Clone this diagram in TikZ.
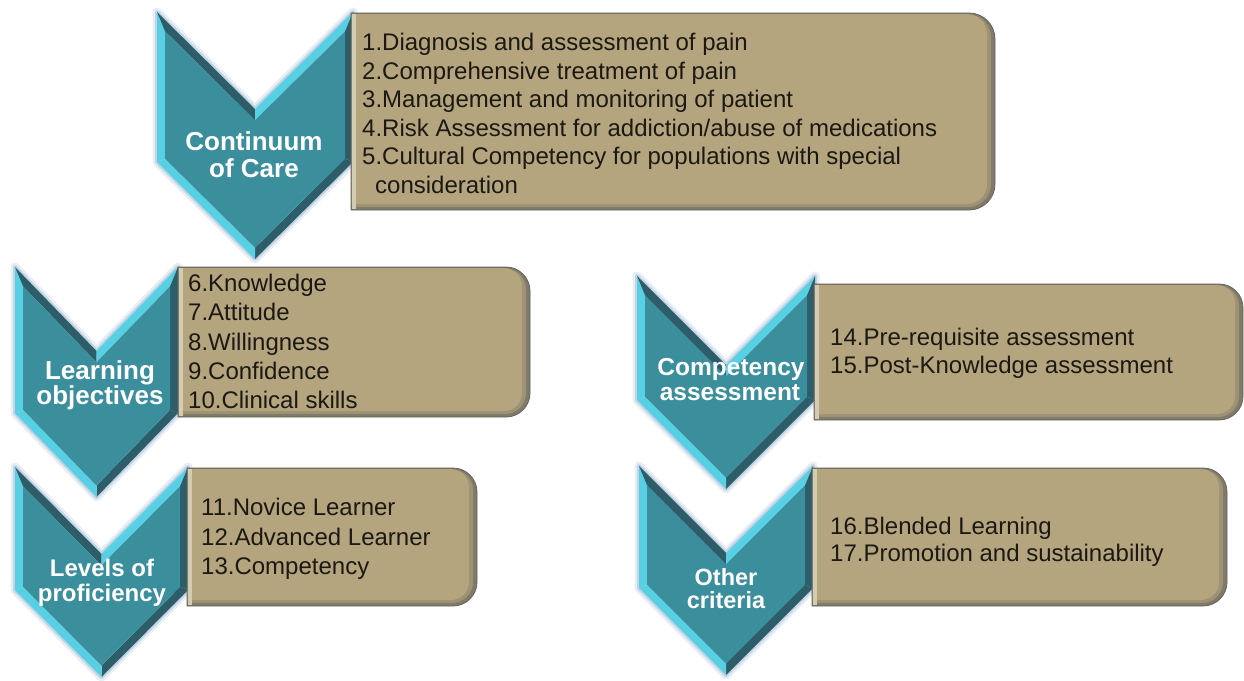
\documentclass[tikz,border=0pt]{standalone}
\usepackage{fontspec}
\setmainfont{Liberation Sans}
\usetikzlibrary{calc}

\definecolor{tealface}{HTML}{3B8E9C}
\definecolor{bevlight}{HTML}{58D0E4}
\definecolor{bevdark}{HTML}{2C5D68}
\definecolor{glowblue}{HTML}{B4C8DE}
\definecolor{tanface}{HTML}{B4A57F}
\definecolor{tanmid}{HTML}{9E9275}
\definecolor{tanedge}{HTML}{7F7A6A}
\definecolor{tanline}{HTML}{66625A}
\definecolor{tanlight}{HTML}{D2CDB2}
\definecolor{boxink}{HTML}{1C1914}

% chevron: #1 name, #2 left x, #3 right x, #4 top y, #5 side bottom y, #6 notch depth
\newcommand\chevronshape[6]{%
  \pgfmathsetmacro\chC{(#2+#3)/2}%
  \pgfmathsetmacro\chN{#4+#6}%
  \pgfmathsetmacro\chP{#5+#6}%
  \coordinate (#1A) at (#2,#4);
  \coordinate (#1N) at (\chC,\chN);
  \coordinate (#1B) at (#3,#4);
  \coordinate (#1Rb) at (#3,#5);
  \coordinate (#1P) at (\chC,\chP);
  \coordinate (#1Lb) at (#2,#5);
  \coordinate (#1a) at ($(#1A)+(8,19.3)$);
  \coordinate (#1n) at ($(#1N)+(0,11.3)$);
  \coordinate (#1b) at ($(#1B)+(-8,19.3)$);
  \coordinate (#1rb) at ($(#1Rb)+(-8,-3.3)$);
  \coordinate (#1p) at ($(#1P)+(0,-11.3)$);
  \coordinate (#1lb) at ($(#1Lb)+(8,-3.3)$);
  \draw[glowblue, line width=9pt, opacity=0.3, line join=round]
    (#1A)--(#1N)--(#1B)--(#1Rb)--(#1P)--(#1Lb)--cycle;
  \draw[glowblue, line width=4pt, opacity=0.7, line join=round]
    (#1A)--(#1N)--(#1B)--(#1Rb)--(#1P)--(#1Lb)--cycle;
  \fill[bevlight] (#1A)--(#1Lb)--(#1lb)--(#1a)--cycle;
  \fill[bevdark]  (#1A)--(#1N)--(#1n)--(#1a)--cycle;
  \fill[bevlight] (#1N)--(#1B)--(#1b)--(#1n)--cycle;
  \fill[bevdark]  (#1B)--(#1Rb)--(#1rb)--(#1b)--cycle;
  \fill[bevdark]  (#1Rb)--(#1P)--(#1p)--(#1rb)--cycle;
  \fill[bevlight] (#1P)--(#1Lb)--(#1lb)--(#1p)--cycle;
  \fill[tealface] (#1a)--(#1n)--(#1b)--(#1rb)--(#1p)--(#1lb)--cycle;
}

% tan panel with rounded right corners: #1 x1, #2 y1, #3 x2, #4 y2, #5 radius
\newcommand\tanbox[5]{%
  \filldraw[fill=tanedge, draw=tanline, line width=0.8pt]
    (#1,#2) -- ({#3-#5},#2) arc[start angle=-90,end angle=0,radius=#5]
    -- (#3,{#4-#5}) arc[start angle=0,end angle=90,radius=#5] -- (#1,#4) -- cycle;
  \fill[tanmid]
    ({#1+0.8},{#2+1.2}) -- ({#3-4-(#5-3)},{#2+1.2}) arc[start angle=-90,end angle=0,radius={#5-3}]
    -- ({#3-4},{#4-3-(#5-3)}) arc[start angle=0,end angle=90,radius={#5-3}] -- ({#1+0.8},{#4-3}) -- cycle;
  \fill[tanface]
    ({#1+0.8},{#2+1.2}) -- ({#3-8-(#5-6)},{#2+1.2}) arc[start angle=-90,end angle=0,radius={#5-6}]
    -- ({#3-8},{#4-6-(#5-6)}) arc[start angle=0,end angle=90,radius={#5-6}] -- ({#1+0.8},{#4-6}) -- cycle;
  \fill[tanlight] ({#1+0.8},{#2+1.2}) rectangle ({#1+5},{#4-1});
}

\begin{document}
\begin{tikzpicture}[x=1pt,y=-1pt,
  boxtext/.style={anchor=north west, inner sep=0pt, align=left, text=boxink},
  chevlabel/.style={anchor=base, inner sep=0pt, text=white,
    font=\bfseries\fontsize{#1}{#1}\selectfont},
]
\useasboundingbox[fill=white] (0,0) rectangle (1244,680);

% chevrons
\chevronshape{c1}{157}{353}{12}{162}{97}
\chevronshape{c2}{15}{178}{267}{413}{84}
\chevronshape{c3}{15}{188}{467}{590}{87}
\chevronshape{c4}{637}{815}{276}{400}{89}
\chevronshape{c5}{639}{813}{466}{588}{87}

% panels
\tanbox{351}{13}{995}{210}{26}
\tanbox{178}{267}{530}{417}{24}
\tanbox{187}{468}{477}{606}{24}
\tanbox{814}{284}{1243}{420}{24}
\tanbox{812}{468}{1227}{606}{24}

% chevron labels
\node[chevlabel=26] (c1l1) at (254,150.3) {Continuum};
\node[chevlabel=26] (c1l2) at (254,177.3) {of Care};
\node[chevlabel=26] (c2l1) at (100,379.3) {Learning};
\node[chevlabel=26] (c2l2) at (100,404.3) {objectives};
\node[chevlabel=24] (c3l1) at (102,576.6) {Levels of};
\node[chevlabel=24] (c3l2) at (102,601.6) {proficiency};
\node[chevlabel=24.5] (c4l1) at (731,375.8) {Competency};
\node[chevlabel=24.5] (c4l2) at (730,400.8) {assessment};
\node[chevlabel=23.5] (c5l1) at (726,585.4) {Other};
\node[chevlabel=23.5] (c5l2) at (726,608.4) {criteria};

% panel texts
\node[boxtext, font=\fontsize{24}{28.6}\selectfont] (t1) at (362,33) {%
1.Diagnosis and assessment of pain\\
2.Comprehensive treatment of pain\\
3.Management and monitoring of patient\\
4.Risk Assessment for addiction/abuse of medications\\
5.Cultural Competency for populations with special\\
\hspace*{13pt}consideration};
\node[boxtext, font=\fontsize{24}{29.3}\selectfont] (t2) at (188,274) {%
6.Knowledge\\
7.Attitude\\
8.Willingness\\
9.Confidence\\
10.Clinical skills};
\node[boxtext, font=\fontsize{24}{29.5}\selectfont] (t3) at (201,498) {%
11.Novice Learner\\
12.Advanced Learner\\
13.Competency};
\node[boxtext, font=\fontsize{24}{28}\selectfont] (t4) at (830,328) {%
14.Pre-requisite assessment\\
15.Post-Knowledge assessment};
\node[boxtext, font=\fontsize{24}{27}\selectfont] (t5) at (830,517) {%
16.Blended Learning\\
17.Promotion and sustainability};
\end{tikzpicture}
\end{document}
